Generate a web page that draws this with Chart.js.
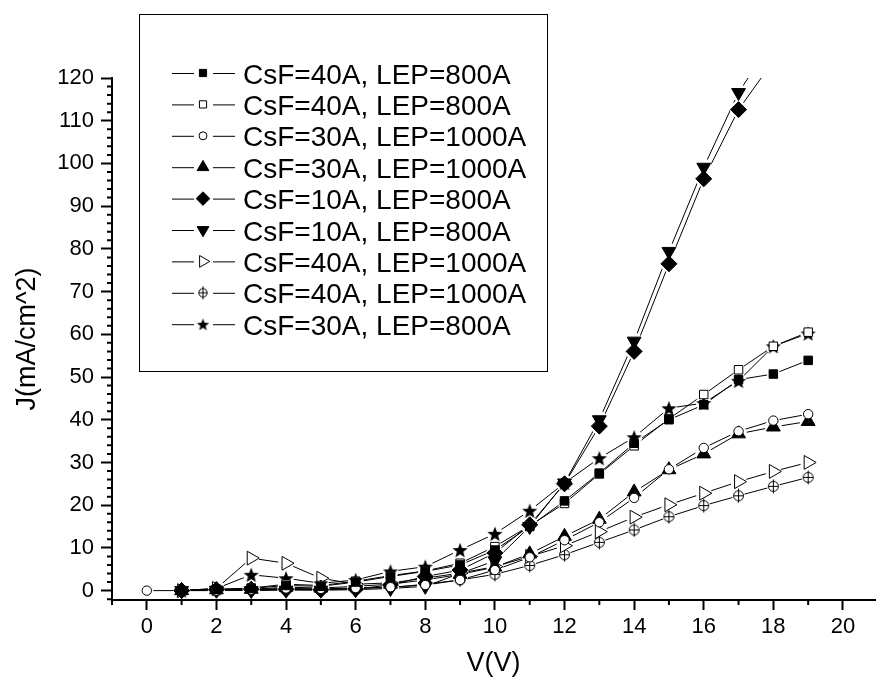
<!DOCTYPE html>
<html>
<head>
<meta charset="utf-8">
<script src="https://cdn.jsdelivr.net/npm/chart.js@4/dist/chart.umd.min.js"></script>
<style>
    html, body { margin: 0; padding: 0; background: #fff; }
    #wrap { width: 884px; height: 684px; position: relative; }
</style>
</head>
<body>
<div id="wrap"><canvas id="jvChart"></canvas></div>
<script>
// voltage steps (V)
const voltage = [1, 2, 3, 4, 5, 6, 7, 8, 9, 10, 11, 12, 13, 14, 15, 16, 17, 18, 19];
const voltageFromZero = [0, 1, 2, 3, 4, 5, 6, 7, 8, 9, 10, 11, 12, 13, 14, 15, 16, 17, 18, 19];
const voltageTo18 = [1, 2, 3, 4, 5, 6, 7, 8, 9, 10, 11, 12, 13, 14, 15, 16, 17, 18];

// current density J (mA/cm^2), one array per device
const csf40Lep800Filled = [0, 0.3, 0.5, 1.2, 1.0, 2.0, 3.3, 4.5, 6.0, 9.5, 15.0, 21.0, 27.5, 34.5, 40.0, 43.5, 49.4, 50.7, 53.9];
const csf40Lep800Open = [0, 0.3, 0.6, 1.5, 1.2, 2.2, 3.5, 4.6, 6.4, 10.3, 15.2, 20.4, 27.3, 33.9, 40.2, 45.9, 51.7, 57.2, 60.5];
const csf30Lep1000Circle = [0, 0, 0, 0.2, 0.5, 0.4, 0.6, 0.8, 1.3, 2.5, 4.8, 7.8, 11.8, 16.0, 21.7, 28.4, 33.4, 37.3, 39.8, 41.3];
const csf30Lep1000Triangle = [0, 0.2, 0.3, 0.8, 0.6, 1.0, 1.5, 2.5, 3.8, 5.5, 8.6, 12.7, 16.7, 23.1, 28.3, 32.0, 36.7, 38.3, 39.6];
const csf10Lep800Diamond = [0, 0.2, 0.3, 0.3, 0.2, 0.4, 1.3, 3.3, 4.8, 8.8, 15.4, 25.0, 38.5, 56.0, 76.5, 96.4, 112.6, 124];
const csf10Lep800Down = [0, 0.1, 0, 0.1, 0.1, 0.2, 0.5, 1.0, 4.0, 7.0, 15.0, 25.2, 40.0, 58.4, 79.4, 99.1, 116.6, 129];
const csf40Lep1000Right = [0, 0.5, 7.6, 6.4, 2.9, 1.5, 1.8, 2.9, 4.1, 5.6, 8.0, 10.5, 13.8, 17.2, 20.1, 22.8, 25.5, 27.9, 30.0];
const csf40Lep1000CrossCircle = [0, 0.2, 0.2, 0.4, 0.3, 0.5, 0.7, 1.5, 2.5, 3.8, 5.9, 8.4, 11.3, 14.2, 17.3, 19.9, 22.2, 24.4, 26.5];
const csf30Lep800Star = [0, 0.5, 3.7, 2.9, 1.7, 2.5, 4.5, 5.6, 9.5, 13.3, 18.7, 25.2, 31.0, 35.9, 42.7, 43.9, 49.1, 57.2, 60.2];

// axis ticks
const xMajorTicks = [0, 2, 4, 6, 8, 10, 12, 14, 16, 18, 20];
const xMinorTicks = [-1, 1, 3, 5, 7, 9, 11, 13, 15, 17, 19];
const yMajorTicks = [0, 10, 20, 30, 40, 50, 60, 70, 80, 90, 100, 110, 120];

const FONT = "'Liberation Sans', Arial, sans-serif";

// custom markers Chart.js doesn't have
function makeStar(outer) {
    const size = Math.ceil(outer * 2 + 2);
    const c = document.createElement('canvas');
    c.width = size; c.height = size;
    const g = c.getContext('2d');
    g.beginPath();
    for (let k = 0; k < 10; k++) {
        const r = k % 2 === 0 ? outer : outer * 0.42;
        const a = -Math.PI / 2 + k * Math.PI / 5;
        g.lineTo(size / 2 + r * Math.cos(a), size / 2 + 0.8 + r * Math.sin(a));
    }
    g.closePath();
    g.fillStyle = '#000';
    g.fill();
    return c;
}

function makeCrossCircle(r) {
    const size = Math.ceil(r * 2 + 5);
    const m = size / 2;
    const c = document.createElement('canvas');
    c.width = size; c.height = size;
    const g = c.getContext('2d');
    g.strokeStyle = '#000';
    g.lineWidth = 1;
    g.beginPath();
    g.arc(m, m, r, 0, Math.PI * 2);
    g.moveTo(m, 0.5); g.lineTo(m, size - 0.5);
    g.moveTo(m - r, m); g.lineTo(m + r, m);
    g.stroke();
    return c;
}

const starImg = makeStar(8);
const starLegendImg = makeStar(6.5);
const crossCircleImg = makeCrossCircle(5);
const crossCircleLegendImg = makeCrossCircle(4.2);

const series = [
    { label: 'CsF=40A, LEP=800A', xs: voltage, ys: csf40Lep800Filled, style: 'rect', radius: 6, rotation: 0, fill: '#000', halo: 6.5 },
    { label: 'CsF=40A, LEP=800A', xs: voltage, ys: csf40Lep800Open, style: 'rect', radius: 6, rotation: 0, fill: '#fff', halo: 6.5 },
    { label: 'CsF=30A, LEP=1000A', xs: voltageFromZero, ys: csf30Lep1000Circle, style: 'circle', radius: 4.7, rotation: 0, fill: '#fff', halo: 6.5 },
    { label: 'CsF=30A, LEP=1000A', xs: voltage, ys: csf30Lep1000Triangle, style: 'triangle', radius: 8, rotation: 0, fill: '#000', halo: 8.5 },
    { label: 'CsF=10A, LEP=800A', xs: voltageTo18, ys: csf10Lep800Diamond, style: 'rectRot', radius: 8, rotation: 0, fill: '#000', halo: 8.5 },
    { label: 'CsF=10A, LEP=800A', xs: voltageTo18, ys: csf10Lep800Down, style: 'triangle', radius: 8, rotation: 180, fill: '#000', halo: 8.5 },
    { label: 'CsF=40A, LEP=1000A', xs: voltage, ys: csf40Lep1000Right, style: 'triangle', radius: 8, rotation: 90, fill: '#fff', halo: 8 },
    { label: 'CsF=40A, LEP=1000A', xs: voltage, ys: csf40Lep1000CrossCircle, style: crossCircleImg, legendStyle: crossCircleLegendImg, radius: 6, rotation: 0, fill: '#fff', halo: 6.5 },
    { label: 'CsF=30A, LEP=800A', xs: voltage, ys: csf30Lep800Star, style: starImg, legendStyle: starLegendImg, radius: 8, rotation: 0, fill: '#000', halo: 8 }
];

const toPoints = (xs, ys) => ys.map((y, i) => ({ x: xs[i], y: y }));

// three layers: lines, white gaps round the symbols, then the symbols
const lineSets = series.map(s => ({
    data: toPoints(s.xs, s.ys),
    borderColor: '#000',
    borderWidth: 1,
    pointRadius: 0,
    order: 3
}));
const haloSets = series.map(s => ({
    data: toPoints(s.xs, s.ys),
    showLine: false,
    pointStyle: 'circle',
    pointRadius: s.halo,
    pointBackgroundColor: '#fff',
    pointBorderWidth: 0,
    order: 2
}));
const markerSets = series.map(s => ({
    data: toPoints(s.xs, s.ys),
    showLine: false,
    pointStyle: s.style,
    pointRadius: s.radius,
    pointRotation: s.rotation,
    pointBackgroundColor: s.fill,
    pointBorderColor: '#000',
    pointBorderWidth: 1,
    order: 1
}));

// minor ticks are shorter than major ones
const minorTicks = {
    id: 'minorTicks',
    afterDraw(chart) {
        const { ctx, scales: { x, y } } = chart;
        const xAxisY = y.getPixelForValue(y.min);
        const yAxisX = x.getPixelForValue(x.min);
        ctx.save();
        ctx.strokeStyle = '#000';
        ctx.lineWidth = 2;
        ctx.beginPath();
        xMinorTicks.forEach(v => {
            const px = x.getPixelForValue(v);
            ctx.moveTo(px, xAxisY);
            ctx.lineTo(px, xAxisY + 5);
        });
        for (let v = -2; v <= 120; v += 2) {
            if (v % 10 === 0) continue;
            const py = y.getPixelForValue(v);
            ctx.moveTo(yAxisX, py);
            ctx.lineTo(yAxisX - 5, py);
        }
        ctx.stroke();
        ctx.restore();
    }
};

// boxed legend sitting over the upper-left of the plot
const boxLegend = {
    id: 'boxLegend',
    afterDraw(chart) {
        const ctx = chart.ctx;
        ctx.save();
        ctx.fillStyle = '#fff';
        ctx.fillRect(139.5, 14.5, 408, 357);
        ctx.strokeStyle = '#000';
        ctx.lineWidth = 1;
        ctx.strokeRect(139.5, 14.5, 408, 357);

        ctx.font = '28px ' + FONT;
        ctx.textBaseline = 'alphabetic';
        ctx.textAlign = 'left';
        series.forEach((s, i) => {
            const cy = 73 + i * 31.4;
            ctx.strokeStyle = '#000';
            ctx.lineWidth = 1;
            ctx.beginPath();
            ctx.moveTo(172, cy + 0.5); ctx.lineTo(194, cy + 0.5);
            ctx.moveTo(213, cy + 0.5); ctx.lineTo(235, cy + 0.5);
            ctx.stroke();
            ctx.fillStyle = s.fill;
            Chart.helpers.drawPoint(ctx, {
                pointStyle: s.legendStyle || s.style,
                rotation: s.rotation,
                radius: s.radius * 0.85,
                borderWidth: 1
            }, 203, cy);
            ctx.fillStyle = '#000';
            ctx.fillText(s.label, 243, cy + 10.5);
        });
        ctx.restore();
    }
};

Chart.defaults.color = '#000';
Chart.defaults.font.family = FONT;

new Chart(document.getElementById('jvChart'), {
    type: 'line',
    data: { datasets: [...lineSets, ...haloSets, ...markerSets] },
    options: {
        responsive: true,
        maintainAspectRatio: false,
        animation: false,
        events: [],
        layout: { padding: { top: 78, right: 0, left: 0, bottom: 0 } },
        plugins: {
            legend: { display: false },
            tooltip: { enabled: false }
        },
        scales: {
            x: {
                type: 'linear',
                min: -1,
                max: 20.92,
                afterBuildTicks: scale => { scale.ticks = xMajorTicks.map(v => ({ value: v })); },
                afterFit: scale => { scale.height = 84; },
                ticks: { font: { size: 22 }, padding: 4, maxRotation: 0, autoSkip: false },
                grid: { drawOnChartArea: false, color: '#000', tickLength: 10, tickWidth: 2 },
                border: { color: '#000', width: 2 },
                title: { display: true, text: 'V(V)', font: { size: 27 }, padding: { top: 0, bottom: 4 } }
            },
            y: {
                type: 'linear',
                min: -2.2,
                max: 120,
                afterBuildTicks: scale => { scale.ticks = yMajorTicks.map(v => ({ value: v })); },
                afterFit: scale => { scale.width = 112; },
                ticks: { font: { size: 22 }, padding: 7, autoSkip: false },
                grid: { drawOnChartArea: false, color: '#000', tickLength: 11, tickWidth: 2 },
                border: { color: '#000', width: 2 },
                title: { display: true, text: 'J(mA/cm^2)', font: { size: 27 }, padding: { top: 11, bottom: 0 } }
            }
        }
    },
    plugins: [minorTicks, boxLegend]
});
</script>
</body>
</html>
